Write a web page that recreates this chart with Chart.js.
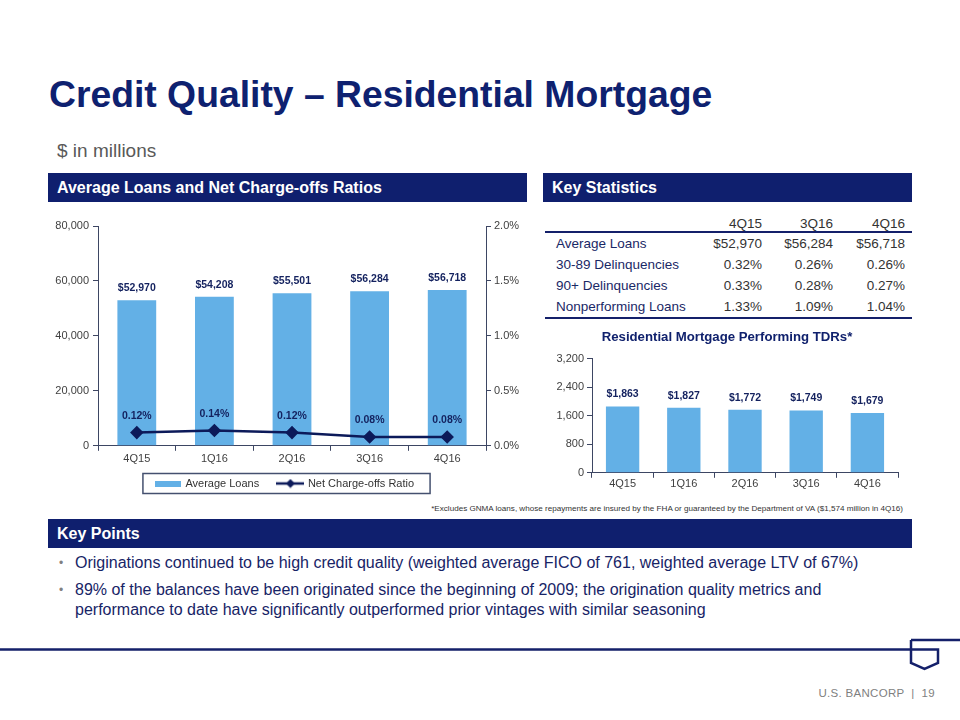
<!DOCTYPE html>
<html>
<head>
<meta charset="utf-8">
<script src="https://cdn.jsdelivr.net/npm/chart.js@4.4.1/dist/chart.umd.min.js"></script>
<style>
  body { margin: 0; width: 960px; height: 720px; position: relative; overflow: hidden; background: #fff;
         font-family: "Liberation Sans", Arial, sans-serif; }
  .abs { position: absolute; white-space: nowrap; }
  #title { left: 49px; top: 76px; font-size: 37.3px; line-height: 37px; font-weight: bold; color: #0e2170; }
  #units { left: 57px; top: 141px; font-size: 19px; line-height: 20px; color: #595959; }
  .band { position: absolute; background: #0f1f6e; color: #fff; font-weight: bold; font-size: 16px;
          line-height: 29px; height: 29px; padding-left: 9px; box-sizing: border-box; }
  #stats { position: absolute; left: 545px; top: 217px; width: 367px; border-collapse: collapse;
           table-layout: fixed; font-size: 13.5px; }
  #stats td { padding: 0; }
  #stats thead td { height: 14px; line-height: 14px; color: #333; text-align: right; border-bottom: 2px solid #14206a; }
  #stats tbody td { height: 21px; line-height: 21px; color: #333; text-align: right; }
  #stats tbody td.lbl { text-align: left; padding-left: 11px; color: #1a2866; }
  #stats td.last { padding-right: 7px; }
  #stats tbody tr:last-child td { border-bottom: 2px solid #14206a; }
  #note { right: 57px; top: 504px; font-size: 8.1px; color: #333; }
  #points { position: absolute; left: 57px; top: 553px; width: 840px; font-size: 16px; line-height: 20px; color: #172466; }
  #points div { position: relative; padding-left: 18px; margin-bottom: 7px; }
  #points span { position: absolute; left: 2px; top: 0; color: #808080; font-size: 12px; }
  #footer { right: 25px; top: 687px; font-size: 11.5px; color: #7f7f7f; letter-spacing: 0.3px; }
</style>
</head>
<body>
<div id="title" class="abs">Credit Quality – Residential Mortgage</div>
<div id="units" class="abs">$ in millions</div>

<div class="band" style="left:48px;top:173px;width:479px;">Average Loans and Net Charge-offs Ratios</div>
<div class="band" style="left:543px;top:173px;width:369px;">Key Statistics</div>

<canvas id="loanChart" class="abs" width="490" height="287" style="left:40px;top:212px;"></canvas>

<table id="stats"><colgroup><col style="width:145px"><col style="width:72px"><col style="width:71px"><col style="width:79px"></colgroup>
  <thead></thead><tbody></tbody></table>

<canvas id="tdrChart" class="abs" width="346" height="169" style="left:556px;top:322px;"></canvas>

<div id="note" class="abs">*Excludes GNMA loans, whose repayments are insured by the FHA or guaranteed by the Department of VA ($1,574 million in 4Q16)</div>

<div class="band" style="left:48px;top:519px;width:864px;">Key Points</div>
<div id="points">
  <div><span>•</span>Originations continued to be high credit quality (weighted average FICO of 761, weighted average LTV of 67%)</div>
  <div><span>•</span>89% of the balances have been originated since the beginning of 2009; the origination quality metrics and<br>performance to date have significantly outperformed prior vintages with similar seasoning</div>
</div>

<svg class="abs" style="left:0;top:630px;" width="960" height="50">
  <polyline points="911,10 960,10" fill="none" stroke="#14206a" stroke-width="2.5"/>
  <polyline points="0,19.5 938,19.5 938,33 924.5,39 911,33 911,10" fill="none" stroke="#14206a" stroke-width="2.5"/>
</svg>
<div id="footer" class="abs">U.S. BANCORP &nbsp;|&nbsp; 19</div>

<script>
const quarters = ['4Q15', '1Q16', '2Q16', '3Q16', '4Q16'];
const avgLoans = [52970, 54208, 55501, 56284, 56718];
const chargeOffRatio = [0.12, 0.14, 0.12, 0.08, 0.08];
const tdrBalances = [1863, 1827, 1772, 1749, 1679];

const statQuarters = ['4Q15', '3Q16', '4Q16'];
const statLabels = ['Average Loans', '30-89 Delinquencies', '90+ Delinquencies', 'Nonperforming Loans'];
const stat4Q15 = ['$52,970', '0.32%', '0.33%', '1.33%'];
const stat3Q16 = ['$56,284', '0.26%', '0.28%', '1.09%'];
const stat4Q16 = ['$56,718', '0.26%', '0.27%', '1.04%'];

const barBlue = '#63b0e6';
const navy = '#0c1a5a';
const labelNavy = '#14225f';
const tickGrey = '#3f3f3f';
const axisColour = '#3d4663';
const fontFamily = '"Liberation Sans", Arial, sans-serif';

function buildTable() {
    const head = document.querySelector('#stats thead');
    const body = document.querySelector('#stats tbody');
    head.innerHTML = '<tr><td></td>' + statQuarters.map((q, i) =>
        `<td${i === statQuarters.length - 1 ? ' class="last"' : ''}>${q}</td>`).join('') + '</tr>';
    statLabels.forEach((label, i) => {
        const tr = document.createElement('tr');
        tr.innerHTML = `<td class="lbl">${label}</td><td>${stat4Q15[i]}</td><td>${stat3Q16[i]}</td><td class="last">${stat4Q16[i]}</td>`;
        body.appendChild(tr);
    });
}

// small swatches for the legend
function barSwatch() {
    const c = document.createElement('canvas');
    c.width = 26; c.height = 6;
    const ctx = c.getContext('2d');
    ctx.fillStyle = barBlue;
    ctx.fillRect(0, 0, 26, 6);
    return c;
}

function lineSwatch() {
    const c = document.createElement('canvas');
    c.width = 28; c.height = 10;
    const ctx = c.getContext('2d');
    ctx.strokeStyle = navy;
    ctx.lineWidth = 2.5;
    ctx.beginPath();
    ctx.moveTo(0, 5); ctx.lineTo(28, 5);
    ctx.stroke();
    ctx.fillStyle = navy;
    ctx.beginPath();
    ctx.moveTo(14, 0.5); ctx.lineTo(18.5, 5); ctx.lineTo(14, 9.5); ctx.lineTo(9.5, 5);
    ctx.closePath();
    ctx.fill();
    return c;
}

const valueLabels = {
    id: 'valueLabels',
    afterDatasetsDraw(chart, args, opts) {
        const ctx = chart.ctx;
        ctx.save();
        ctx.font = 'bold 10.5px ' + fontFamily;
        ctx.fillStyle = labelNavy;
        ctx.textAlign = 'center';
        ctx.textBaseline = 'middle';
        chart.data.datasets.forEach((ds, i) => {
            const meta = chart.getDatasetMeta(i);
            meta.data.forEach((el, j) => {
                ctx.fillText(opts.formats[i](ds.data[j]), el.x, el.y - opts.offsets[i]);
            });
        });
        ctx.restore();
    }
};

const legendFrame = {
    id: 'legendFrame',
    afterDraw(chart) {
        const boxes = chart.legend && chart.legend.legendHitBoxes;
        if (!boxes || !boxes.length) return;
        const left = Math.min(...boxes.map(b => b.left)) - 13;
        const right = Math.max(...boxes.map(b => b.left + b.width)) + 16;
        const mid = boxes[0].top + boxes[0].height / 2;
        const ctx = chart.ctx;
        ctx.save();
        ctx.strokeStyle = '#44506f';
        ctx.lineWidth = 1.5;
        ctx.strokeRect(left, mid - 10, right - left, 20);
        ctx.restore();
    }
};

const dollars = v => '$' + v.toLocaleString('en-US');
const percent = v => v.toFixed(2) + '%';

function axisBase() {
    return {
        grid: { drawOnChartArea: false, drawTicks: true, tickLength: 5, color: axisColour },
        border: { color: axisColour, width: 1 },
        ticks: { font: { size: 11, family: fontFamily }, color: tickGrey }
    };
}

function createLoanChart() {
    const ctx = document.getElementById('loanChart').getContext('2d');
    const x = axisBase();
    x.ticks.padding = 2;
    const y = axisBase();
    y.min = 0; y.max = 80000;
    y.ticks.stepSize = 20000;
    y.ticks.padding = 4;
    y.ticks.callback = v => v.toLocaleString('en-US');
    y.afterFit = s => { s.width = 58; };
    const y1 = axisBase();
    y1.position = 'right';
    y1.min = 0; y1.max = 2;
    y1.ticks.stepSize = 0.5;
    y1.ticks.padding = 3;
    y1.ticks.callback = v => v.toFixed(1) + '%';
    y1.afterFit = s => { s.width = 44; };

    new Chart(ctx, {
        data: {
            labels: quarters,
            datasets: [
                {
                    type: 'bar',
                    label: 'Average Loans',
                    data: avgLoans,
                    backgroundColor: barBlue,
                    barPercentage: 0.5,
                    categoryPercentage: 1,
                    yAxisID: 'y',
                    order: 1
                },
                {
                    type: 'line',
                    label: 'Net Charge-offs Ratio',
                    data: chargeOffRatio,
                    borderColor: navy,
                    backgroundColor: navy,
                    borderWidth: 2.5,
                    pointStyle: 'rectRot',
                    pointRadius: 5,
                    pointBackgroundColor: navy,
                    pointBorderColor: navy,
                    yAxisID: 'y1',
                    order: 0
                }
            ]
        },
        options: {
            responsive: false,
            animation: false,
            devicePixelRatio: 1,
            layout: { padding: { top: 14, left: 0, right: 0, bottom: 0 } },
            scales: { x: x, y: y, y1: y1 },
            plugins: {
                tooltip: { enabled: false },
                legend: {
                    position: 'bottom',
                    labels: {
                        usePointStyle: true,
                        pointStyleWidth: 24,
                        padding: 10,
                        color: '#333',
                        font: { size: 11, family: fontFamily },
                        // trailing spaces widen the gap between the two entries
                        generateLabels: chart => [
                            { text: 'Average Loans\u00a0\u00a0\u00a0', pointStyle: barSwatch(), datasetIndex: 0, fontColor: '#333', lineWidth: 0 },
                            { text: 'Net Charge-offs Ratio', pointStyle: lineSwatch(), datasetIndex: 1, fontColor: '#333', lineWidth: 0 }
                        ]
                    }
                },
                valueLabels: { formats: [dollars, percent], offsets: [12, 16.5] }
            }
        },
        plugins: [valueLabels, legendFrame]
    });
}

function createTdrChart() {
    const ctx = document.getElementById('tdrChart').getContext('2d');
    const x = axisBase();
    x.ticks.padding = 0;
    const y = axisBase();
    y.min = 0; y.max = 3200;
    y.ticks.stepSize = 800;
    y.ticks.padding = 3;
    y.ticks.callback = v => v.toLocaleString('en-US');
    y.afterFit = s => { s.width = 36; };

    new Chart(ctx, {
        type: 'bar',
        data: {
            labels: quarters,
            datasets: [{
                label: 'Performing TDRs',
                data: tdrBalances,
                backgroundColor: barBlue,
                barPercentage: 0.545,
                categoryPercentage: 1
            }]
        },
        options: {
            responsive: false,
            animation: false,
            devicePixelRatio: 1,
            layout: { padding: { top: 0, left: 0, right: 4, bottom: 0 } },
            scales: { x: x, y: y },
            plugins: {
                tooltip: { enabled: false },
                legend: { display: false },
                title: {
                    display: true,
                    text: 'Residential Mortgage Performing TDRs*',
                    color: '#10216d',
                    font: { size: 13.2, weight: 'bold', family: fontFamily },
                    padding: { top: 7, bottom: 14 }
                },
                valueLabels: { formats: [dollars], offsets: [12] }
            }
        },
        plugins: [valueLabels]
    });
}

buildTable();
createLoanChart();
createTdrChart();
</script>
</body>
</html>
